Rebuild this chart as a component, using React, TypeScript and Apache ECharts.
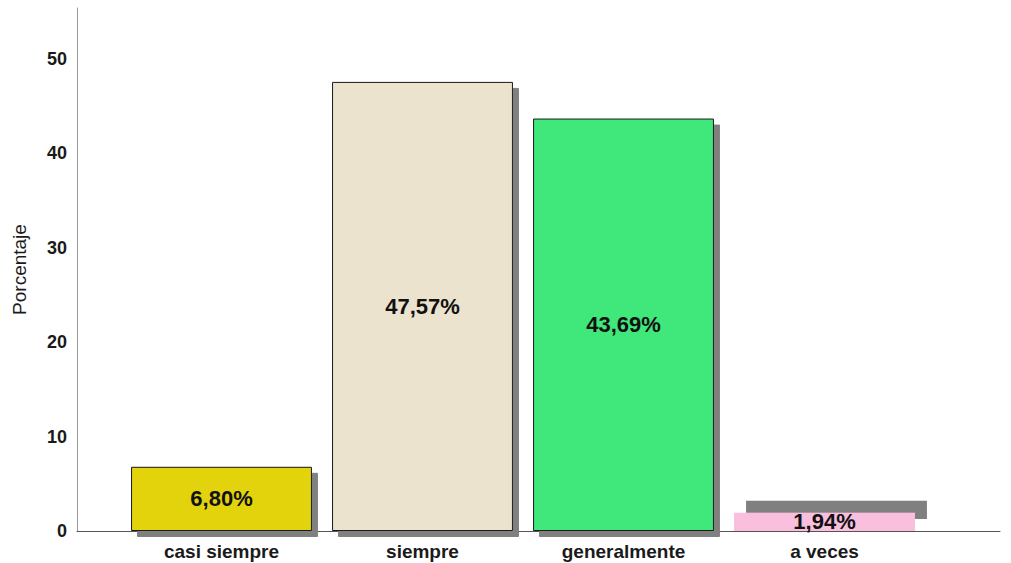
import React, { useEffect, useRef } from "react";
import * as echarts from "echarts";

const categories = ["casi siempre", "siempre", "generalmente", "a veces"];
const values = [6.8, 47.57, 43.69, 1.94];
const colors = ["#E2D30E", "#EBE3CD", "#41E87C", "#F9BFDD"];
const yTicks = [0, 10, 20, 30, 40, 50];

export default function App() {
  const ref = useRef<HTMLDivElement>(null);
  useEffect(() => {
    if (!ref.current) return;
    const chart = echarts.init(ref.current, undefined, { renderer: "svg" });
    const font = "'Liberation Sans', Arial, sans-serif";
    const yMax = 55.4;
    chart.setOption({
      animation: false,
      backgroundColor: "#ffffff",
      grid: [
        { left: 121, right: 86, top: 8, bottom: 32 },
        { left: 77, right: 11, top: 8, bottom: 32 },
      ],
      xAxis: [
        {
          type: "category",
          gridIndex: 0,
          data: categories,
          axisLine: { show: false },
          axisTick: { show: false },
          axisLabel: {
            margin: 11,
            color: "#1a1a1a",
            fontSize: 19,
            fontWeight: "bold",
            fontFamily: font,
          },
        },
        {
          type: "value",
          gridIndex: 1,
          min: 0,
          max: 1,
          axisLine: { show: true, onZero: false, lineStyle: { color: "#555555", width: 1 } },
          axisTick: { show: false },
          axisLabel: { show: false },
          splitLine: { show: false },
        },
      ],
      yAxis: [
        {
          type: "value",
          gridIndex: 0,
          min: 0,
          max: yMax,
          show: false,
          splitLine: { show: false },
        },
        {
          type: "value",
          gridIndex: 1,
          min: 0,
          max: yMax,
          interval: 10,
          name: "Porcentaje",
          nameLocation: "middle",
          nameGap: 48,
          nameTextStyle: { color: "#1a1a1a", fontSize: 19, fontFamily: font },
          axisLine: { show: true, lineStyle: { color: "#999999", width: 1 } },
          axisTick: { show: false },
          splitLine: { show: false },
          axisLabel: {
            margin: 10,
            color: "#1a1a1a",
            fontSize: 18,
            fontWeight: "bold",
            fontFamily: font,
            formatter: (v: number) => (yTicks.includes(v) ? String(v) : ""),
          },
        },
      ],
      series: [
        {
          type: "bar",
          xAxisIndex: 0,
          yAxisIndex: 0,
          barCategoryGap: "10%",
          data: values.map((v, i) => ({
            value: v,
            itemStyle: {
              color: colors[i],
              borderColor: i === 3 ? colors[i] : "#1a1a1a",
              borderWidth: i === 3 ? 0 : 1,
              shadowColor: "#808080",
              shadowBlur: 0,
              shadowOffsetX: i === 3 ? 12 : 6,
              shadowOffsetY: i === 3 ? -12 : 6,
            },
          })),
          label: {
            show: true,
            position: "inside",
            color: "#111111",
            fontSize: 22,
            fontWeight: "bold",
            fontFamily: font,
            formatter: (p: any) => p.value.toFixed(2).replace(".", ",") + "%",
          },
        },
      ],
    });
    return () => chart.dispose();
  }, []);
  return (
    <div
      ref={ref}
      style={{ position: "fixed", left: 0, top: 0, width: 1011, height: 563 }}
    />
  );
}
